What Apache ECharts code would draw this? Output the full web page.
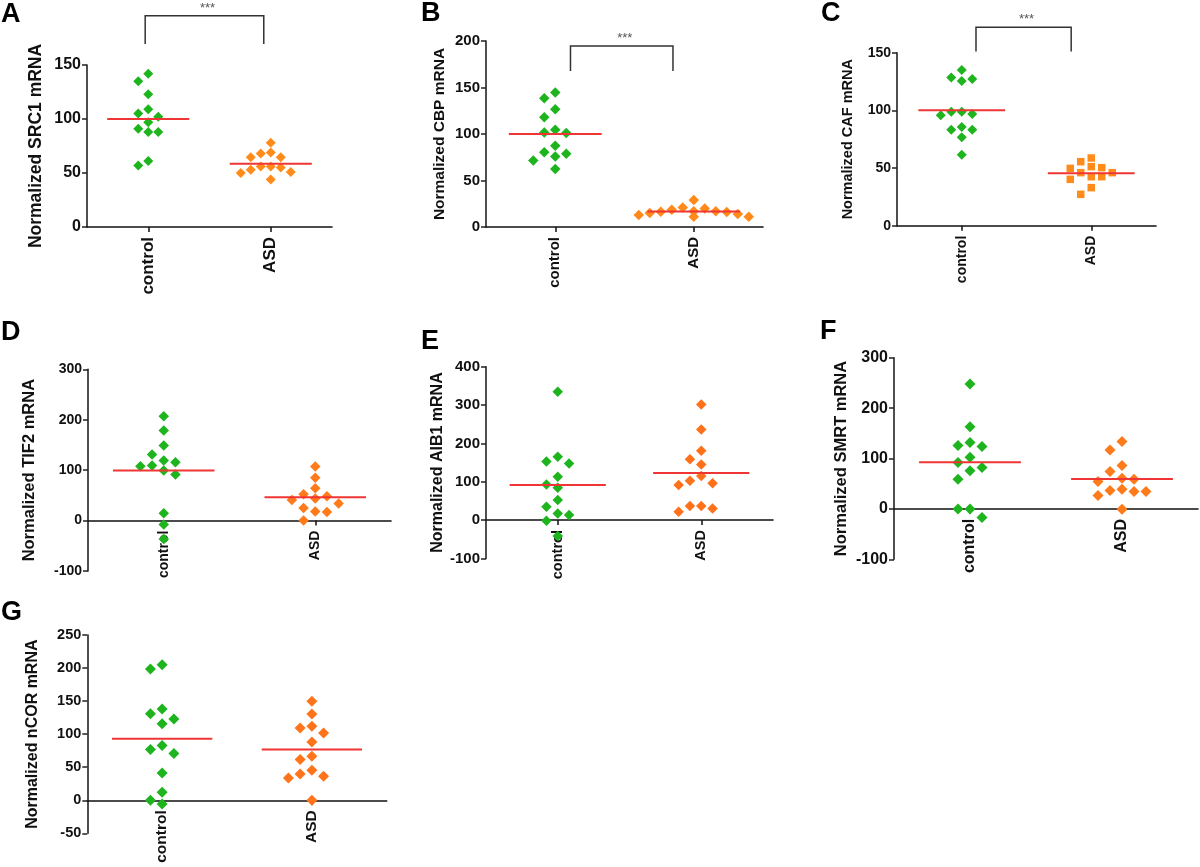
<!DOCTYPE html>
<html><head><meta charset="utf-8">
<script src="https://cdn.jsdelivr.net/npm/echarts@6/dist/echarts.min.js"></script>
<style>html,body{margin:0;padding:0;background:#fff}#chart{width:1200px;height:867px}</style>
</head><body><div id="chart"></div>
<script>
// ---------------- data ----------------
const categories = ['control', 'ASD'];

const src1Control = [142, 135, 123, 109, 105, 102, 97, 91, 88, 88, 61, 57];
const src1ASD     = [78, 68, 69, 64.5, 64.5, 56, 53, 55, 56, 51, 50, 44];
const src1Means   = [100, 58.6];
const src1Ticks   = [0, 50, 100, 150];

const cbpControl = [144.5, 138.5, 126.7, 118, 104.5, 101, 101.6, 87.3, 78.7, 75.8, 80.5, 71.6, 62.3];
const cbpASD     = [29, 21, 20, 18.5, 17, 17, 16.5, 16, 15, 14, 13, 11, 11];
const cbpMeans   = [100, 16.8];
const cbpTicks   = [0, 50, 100, 150, 200];

const cafControl = [135, 128.6, 127.2, 125.4, 98.8, 98.8, 96.8, 95.7, 85.5, 83.2, 83.2, 76.6, 61.6];
const cafASD     = [58.7, 55.5, 51.2, 50.3, 49.7, 46, 46, 42.5, 42.5, 40.2, 33, 27.2];
const cafMeans   = [100, 45.4];
const cafTicks   = [0, 50, 100, 150];

const tif2Control = [207, 178.5, 148.8, 130.9, 119, 115.7, 109, 107.8, 99.2, 91.2, 14.5, -7.9, -36.4];
const tif2ASD     = [107, 85, 64, 52, 48, 44, 41, 34, 25, 18, 17, 0];
const tif2Means   = [99.2, 46.3];
const tif2Ticks   = [-100, 0, 100, 200, 300];

const aib1Control = [334.8, 165.2, 153, 147.8, 113, 93, 84.3, 52.2, 34.8, 17.4, 13, -1.7, -41.7];
const aib1ASD     = [301.7, 236.5, 180.9, 158.3, 145.2, 114.8, 102.6, 95.7, 91.3, 36.5, 36.5, 30.4, 21.7];
const aib1Means   = [91.3, 122.6];
const aib1Ticks   = [-100, 0, 100, 200, 300, 400];

const smrtControl = [247.8, 163.2, 131.5, 125.6, 123.6, 102.4, 91.9, 82, 75.6, 58.8, 0, 0, -17.2];
const smrtASD     = [133.5, 117, 85.9, 74, 60.8, 58.8, 54.2, 39, 36.4, 34.4, 34.4, 26.4, -0.7];
const smrtMeans   = [92.5, 59.5];
const smrtTicks   = [-100, 0, 100, 200, 300];

const ncorControl = [205.1, 198.6, 138.1, 131, 123, 115.9, 82.7, 76.6, 70.6, 41.3, 12.1, 0, -5.5];
const ncorASD     = [149.7, 130.5, 111.9, 109.4, 101.8, 88.2, 66.5, 61.5, 45.4, 39.8, 36.3, 33.8, 0];
const ncorMeans   = [93.2, 76.6];
const ncorTicks   = [-50, 0, 50, 100, 150, 200, 250];

// ---------------- layout / style ----------------
const FONT = '"Liberation Sans", Arial, Helvetica, sans-serif';
const GREEN = '#1EB41E';
const RED = '#F03535';

const panels = [
  {key:'A', name:'Normalized SRC1 mRNA', ctrl:src1Control, asd:src1ASD, means:src1Means, ticks:src1Ticks,
   grid:{left:87, top:65, width:245, height:162}, letter:{left:1, top:1}, fonts:[16,17,17.5], nameGap:42,
   spacing:10, size:10, asdSymbol:'diamond', asdSize:10, orange:'#FF8C1A',
   bracket:{top:195.6, bottom:169.4, in0:-0.025, in1:0.057}},
  {key:'B', name:'Normalized CBP mRNA', ctrl:cbpControl, asd:cbpASD, means:cbpMeans, ticks:cbpTicks,
   grid:{left:486, top:41, width:277, height:186}, letter:{left:421, top:0}, fonts:[15,15,15.5], nameGap:38,
   spacing:11, size:10.5, asdSymbol:'diamond', asdSize:10.5, orange:'#FF8A1A',
   bracket:{top:194.5, bottom:167.7, in0:0.11, in1:0.15}},
  {key:'C', name:'Normalized CAF mRNA', ctrl:cafControl, asd:cafASD, means:cafMeans, ticks:cafTicks,
   grid:{left:897, top:52.7, width:259, height:173}, letter:{left:821, top:0}, fonts:[14,14,14.5], nameGap:42,
   spacing:10.5, size:10, asdSymbol:'rect', asdSize:7.5, orange:'#FF8C1A',
   bracket:{top:172, bottom:151, in0:0.11, in1:0.155}},
  {key:'D', name:'Normalized TIF2 mRNA', ctrl:tif2Control, asd:tif2ASD, means:tif2Means, ticks:tif2Ticks,
   grid:{left:88, top:369.3, width:303, height:201.7}, letter:{left:1, top:319}, fonts:[14,14,16.5], nameGap:50,
   spacing:11.7, size:10.5, asdSymbol:'diamond', asdSize:10.5, orange:'#FF7A1A', bracket:null},
  {key:'E', name:'Normalized AIB1 mRNA', ctrl:aib1Control, asd:aib1ASD, means:aib1Means, ticks:aib1Ticks,
   grid:{left:486, top:366.7, width:287, height:191.7}, letter:{left:421, top:328}, fonts:[15,14.5,16], nameGap:40,
   spacing:11.3, size:10.5, asdSymbol:'diamond', asdSize:10.5, orange:'#FF701A', bracket:null},
  {key:'F', name:'Normalized SMRT mRNA', ctrl:smrtControl, asd:smrtASD, means:smrtMeans, ticks:smrtTicks,
   grid:{left:894, top:357.7, width:304, height:201.6}, letter:{left:820, top:318}, fonts:[16,16,16.5], nameGap:44,
   spacing:12, size:11, asdSymbol:'diamond', asdSize:11, orange:'#FF7A1A', bracket:null},
  {key:'G', name:'Normalized nCOR mRNA', ctrl:ncorControl, asd:ncorASD, means:ncorMeans, ticks:ncorTicks,
   grid:{left:87.3, top:635, width:299.4, height:198.3}, letter:{left:1, top:599}, fonts:[14.5,15.5,16], nameGap:47,
   spacing:11.7, size:11, asdSymbol:'diamond', asdSize:11, orange:'#FF731A', bracket:null}
];

// simple beeswarm: spread points of similar value into side columns
function swarm(values, pxPerUnit, spacing, thresh) {
  const order = values.map((v, i) => i).sort((a, b) => values[b] - values[a]);
  const placed = [];
  const offs = new Array(values.length).fill(0);
  const cands = [0, -1, 1, -2, 2, -3, 3, -4, 4, -5, 5];
  for (const i of order) {
    const y = values[i] * pxPerUnit;
    for (const c of cands) {
      if (!placed.some(p => p.col === c && Math.abs(p.y - y) < thresh)) {
        placed.push({y, col: c}); offs[i] = c * spacing; break;
      }
    }
  }
  return offs;
}

const option = {
  backgroundColor: '#fff', animation: false,
  title: [], grid: [], xAxis: [], yAxis: [], series: []
};

panels.forEach((p, i) => {
  const min = p.ticks[0], max = p.ticks[p.ticks.length - 1], interval = p.ticks[1] - p.ticks[0];
  const ppu = p.grid.height / (max - min);
  // labels are laid out from the grid bottom; pull them up to the zero line
  const zeroShift = Math.max(0, -min) * ppu;
  option.title.push({text: p.key, left: p.letter.left, top: p.letter.top, padding: 0,
    textStyle: {fontSize: 27, fontWeight: 'bold', color: '#000', fontFamily: FONT}});
  option.grid.push(Object.assign({containLabel: false, outerBoundsMode: 'none'}, p.grid));
  option.xAxis.push({
    type: 'category', gridIndex: i, data: categories, boundaryGap: true,
    axisLine: {show: true, onZero: true, lineStyle: {color: '#111', width: 1.6}},
    axisTick: {show: true, alignWithLabel: true, length: 5, lineStyle: {color: '#111', width: 1.5}},
    axisLabel: {rotate: 90, margin: 10 - zeroShift, fontSize: p.fonts[1], fontWeight: 'bold', color: '#111', fontFamily: FONT, interval: 0},
    splitLine: {show: false}
  });
  option.yAxis.push({
    type: 'value', gridIndex: i, min, max, interval,
    name: p.name, nameLocation: 'middle', nameGap: p.nameGap,
    nameTextStyle: {fontSize: p.fonts[2], fontWeight: 'bold', color: '#111', fontFamily: FONT},
    axisLine: {show: true, onZero: false, lineStyle: {color: '#222', width: 1.6}},
    axisTick: {show: true, length: 5, lineStyle: {color: '#222', width: 1.5}},
    axisLabel: {margin: 6, fontSize: p.fonts[0], fontWeight: 'bold', color: '#111', fontFamily: FONT, showMinLabel: true, showMaxLabel: true},
    splitLine: {show: false}
  });
  const offC = swarm(p.ctrl, ppu, p.spacing, p.size * 0.95);
  const offA = swarm(p.asd, ppu, p.spacing, p.asdSize * 0.95);
  option.series.push({
    type: 'scatter', xAxisIndex: i, yAxisIndex: i, symbol: 'diamond', symbolSize: p.size, silent: true, z: 3,
    itemStyle: {color: GREEN, opacity: 1},
    data: p.ctrl.map((v, k) => ({value: [0, v], symbolOffset: [offC[k], 0]}))
  });
  option.series.push({
    type: 'scatter', xAxisIndex: i, yAxisIndex: i, symbol: p.asdSymbol, symbolSize: p.asdSize, silent: true, z: 3,
    itemStyle: {color: p.orange, opacity: 1},
    data: p.asd.map((v, k) => ({value: [1, v], symbolOffset: [offA[k], 0]}))
  });
  option.series.push({
    type: 'custom', xAxisIndex: i, yAxisIndex: i, silent: true, z: 5, clip: false,
    data: p.means.map((m, k) => [k, m]),
    renderItem: (params, api) => {
      const pt = api.coord([api.value(0), api.value(1)]);
      const bw = api.size([1, 0])[0];
      return {type: 'line', shape: {x1: pt[0] - bw * 0.335, y1: pt[1], x2: pt[0] + bw * 0.335, y2: pt[1]},
        style: {stroke: RED, lineWidth: 2}};
    }
  });
  if (p.bracket) {
    const b = p.bracket;
    option.series.push({
      type: 'custom', xAxisIndex: i, yAxisIndex: i, silent: true, z: 5, clip: false,
      data: [[0, b.top, b.bottom]],
      renderItem: (params, api) => {
        const t0 = api.coord([0, api.value(1)]);
        const t1 = api.coord([1, api.value(1)]);
        const bt = api.coord([0, api.value(2)]);
        const bw = api.size([1, 0])[0];
        const x0 = t0[0] + b.in0 * bw, x1 = t1[0] - b.in1 * bw;
        return {type: 'group', children: [
          {type: 'polyline', shape: {points: [[x0, bt[1]], [x0, t0[1]], [x1, t0[1]], [x1, bt[1]]]},
           style: {stroke: '#333', lineWidth: 1.5, fill: null}},
          {type: 'text', x: (x0 + x1) / 2 + 3, y: t0[1] - 1,
           style: {text: '***', fill: '#555', font: '13px ' + FONT, align: 'center', verticalAlign: 'bottom'}}
        ]};
      }
    });
  }
});

const chart = echarts.init(document.getElementById('chart'), null, {renderer: 'canvas'});
chart.setOption(option);
</script>
</body></html>
